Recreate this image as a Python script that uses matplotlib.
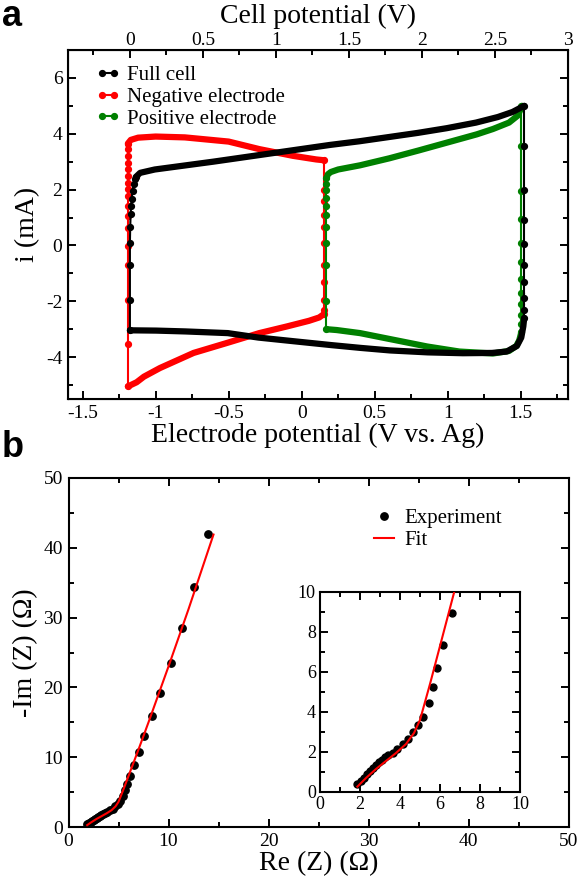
import matplotlib
matplotlib.use("Agg")
import matplotlib.pyplot as plt
from matplotlib.lines import Line2D
from matplotlib.ticker import MultipleLocator

plt.rcParams['font.family'] = ['Liberation Serif', 'DejaVu Serif']

# ---------------- panel a : cyclic voltammetry ----------------
# full cell, x in cell potential (V)
full_up_v = [0.04, 0.07, 0.17, 0.37, 0.57, 0.77, 0.97, 1.17, 1.37, 1.57, 1.77, 1.97, 2.17, 2.37, 2.52, 2.62, 2.70]
full_up_i = [2.45, 2.6, 2.72, 2.86, 3.0, 3.15, 3.3, 3.45, 3.6, 3.73, 3.88, 4.03, 4.2, 4.4, 4.6, 4.78, 5.0]
full_right_v = 2.70
full_right_i = [5.0, 3.57, 1.97, 0.91, 0.05, -0.7, -1.3, -1.9, -2.3, -2.6]
full_lo_v = [2.70, 2.694, 2.68, 2.65, 2.58, 2.48, 2.28, 2.04, 1.78, 1.58, 1.38, 1.12, 0.88, 0.67, 0.38, 0.18, 0.0]
full_lo_i = [-2.6, -2.9, -3.3, -3.6, -3.8, -3.85, -3.86, -3.83, -3.76, -3.67, -3.57, -3.43, -3.3, -3.14, -3.08, -3.05, -3.04]
full_left_v = [0.0, 0.0, 0.0, 0.0, 0.002, 0.005, 0.008, 0.012, 0.018, 0.025, 0.035, 0.04]
full_left_i = [-3.04, -1.97, -0.71, 0.1, 0.66, 1.11, 1.41, 1.68, 1.95, 2.19, 2.39, 2.45]

# negative electrode, x in electrode potential (V vs. Ag)
neg_up_e = [-1.19, -1.17, -1.12, -1.0, -0.8, -0.5, -0.29, -0.06, 0.1, 0.155]
neg_up_i = [3.65, 3.78, 3.86, 3.9, 3.87, 3.72, 3.45, 3.21, 3.08, 3.05]
neg_right_e = 0.155
neg_right_i = [3.05, 2.0, 1.6, 1.1, 0.66, 0.1, -0.7, -1.3, -1.97, -2.3, -2.45]
neg_lo_e = [0.155, 0.12, 0.05, -0.1, -0.29, -0.51, -0.74, -0.97, -1.08, -1.13, -1.19]
neg_lo_i = [-2.45, -2.58, -2.7, -2.9, -3.14, -3.49, -3.85, -4.39, -4.7, -4.9, -5.05]
neg_left_e = -1.19
neg_left_i = [-5.05, -3.52, -1.97, -0.71, -0.02, 0.64, 1.05, 1.41, 1.77, 2.01, 2.25, 2.49, 2.73, 2.97, 3.2, 3.45, 3.65]

# positive electrode
pos_up_e = [0.17, 0.18, 0.2, 0.25, 0.4, 0.6, 0.8, 1.0, 1.2, 1.31, 1.42, 1.48, 1.51]
pos_up_i = [2.4, 2.55, 2.63, 2.72, 2.87, 3.12, 3.4, 3.69, 3.98, 4.17, 4.4, 4.65, 5.0]
pos_right_e = 1.505
pos_right_i = [5.0, 3.57, 1.95, 0.93, 0.1, -0.6, -1.2, -1.7, -2.1, -2.5, -2.8, -3.1]
pos_lo_e = [1.505, 1.49, 1.47, 1.42, 1.31, 1.08, 0.86, 0.63, 0.4, 0.24, 0.17]
pos_lo_i = [-3.1, -3.4, -3.6, -3.78, -3.87, -3.8, -3.62, -3.38, -3.14, -3.03, -3.0]
pos_left_e = 0.17
pos_left_i = [-3.0, -2.0, -0.71, 0.1, 0.66, 1.1, 1.41, 1.7, 1.97, 2.2, 2.4]

# ---------------- panel b : Nyquist plot ----------------
exp_re = [1.87, 2.05, 2.2, 2.35, 2.5, 2.65, 2.8, 2.95, 3.1, 3.25, 3.4, 3.63, 3.87, 4.17, 4.42,
          4.67, 4.92, 5.17, 5.47, 5.67, 5.87, 6.17, 6.58, 7.07, 7.57, 8.33, 9.17, 10.23, 11.33, 12.5, 13.93]
exp_im = [0.40, 0.55, 0.72, 0.88, 1.03, 1.18, 1.33, 1.48, 1.62, 1.75, 1.85, 1.97, 2.15, 2.40, 2.63,
          3.02, 3.35, 3.77, 4.43, 5.27, 6.22, 7.35, 8.93, 10.8, 13.1, 15.9, 19.26, 23.5, 28.5, 34.4, 42.0]
fit_re = [1.87, 2.3, 2.8, 3.3, 3.8, 4.3, 4.7, 5.0, 5.5, 6.0, 7.0, 8.0, 10.0, 12.0, 14.5]
fit_im = [0.27, 0.7, 1.15, 1.55, 1.95, 2.4, 2.95, 3.6, 5.4, 7.3, 11.1, 15.0, 23.0, 31.2, 41.9]

red = '#ff0000'
green = '#008000'

W, H = 581, 877
fig = plt.figure(figsize=(W / 100, H / 100), dpi=100)


def style(a, major_x, minor_x, major_y, minor_y, size=14):
    a.xaxis.set_major_locator(MultipleLocator(major_x))
    a.xaxis.set_minor_locator(MultipleLocator(minor_x))
    a.yaxis.set_major_locator(MultipleLocator(major_y))
    a.yaxis.set_minor_locator(MultipleLocator(minor_y))
    a.tick_params(which='both', direction='in', width=1.4, labelsize=size, pad=4)
    a.tick_params(which='major', length=6)
    a.tick_params(which='minor', length=3.5)
    for s in a.spines.values():
        s.set_linewidth(1.5)


def draw_loop(a, color, up, low, left, right):
    for xs, ys in (up, low):
        a.plot(xs, ys, color=color, lw=4.5, solid_capstyle='round', zorder=3)
    for xs, ys in (left, right):
        a.plot(xs, ys, color=color, lw=1.5, marker='o', ms=4.2, zorder=3)


# panel a
ax = fig.add_axes([68 / W, 1 - 399 / H, 500 / W, 349 / H])
ax.set_xlim(-1.6, 1.824)
ax.set_ylim(-5.5, 7)
draw_loop(ax, red, (neg_up_e, neg_up_i), (neg_lo_e, neg_lo_i),
          ([neg_left_e] * len(neg_left_i), neg_left_i), ([neg_right_e] * len(neg_right_i), neg_right_i))
draw_loop(ax, green, (pos_up_e, pos_up_i), (pos_lo_e, pos_lo_i),
          ([pos_left_e] * len(pos_left_i), pos_left_i), ([pos_right_e] * len(pos_right_i), pos_right_i))

ax_top = ax.twiny()
ax_top.set_xlim(-0.424, 3.0)
draw_loop(ax_top, 'black', (full_up_v, full_up_i), (full_lo_v, full_lo_i),
          (full_left_v, full_left_i), ([full_right_v] * len(full_right_i), full_right_i))

style(ax, 0.5, 0.25, 2, 1)
ax.tick_params(which='both', top=False, right=True, labelright=False)
ax_top.xaxis.set_major_locator(MultipleLocator(0.5))
ax_top.xaxis.set_minor_locator(MultipleLocator(0.25))
ax_top.tick_params(which='both', direction='in', width=1.4, labelsize=14, pad=0.5)
ax_top.tick_params(which='major', length=6)
ax_top.tick_params(which='minor', length=3.5)
ax_top.xaxis.set_major_formatter(plt.FuncFormatter(lambda v, p: f'{v:g}'))
ax.xaxis.set_major_formatter(plt.FuncFormatter(lambda v, p: f'{v:g}'))
ax.yaxis.set_major_formatter(plt.FuncFormatter(lambda v, p: f'{v:g}'))

ax.set_xlabel('Electrode potential (V vs. Ag)', fontsize=20, labelpad=1)
ax.set_ylabel('i (mA)', fontsize=20, labelpad=4)
ax_top.set_xlabel('Cell potential (V)', fontsize=20, labelpad=7)

handles = [Line2D([], [], color=c, lw=1.5, marker='o', ms=4.2) for c in ('black', red, green)]
ax_top.legend(handles, ['Full cell', 'Negative electrode', 'Positive electrode'],
              loc='upper left', bbox_to_anchor=(0.055, 0.955), frameon=False, fontsize=15,
              numpoints=2, handlelength=1.2, handletextpad=0.3, labelspacing=0.1,
              borderpad=0, borderaxespad=0)

# panel b
bx = fig.add_axes([68.5 / W, 1 - 827 / H, 500 / W, 349 / H])
bx.set_xlim(0, 50)
bx.set_ylim(0, 50)
bx.plot(exp_re, exp_im, 'o', color='black', ms=5.3, ls='none', label='Experiment', zorder=3)
bx.plot(fit_re, fit_im, color=red, lw=1.5, label='Fit', zorder=4)
style(bx, 10, 5, 10, 5)
bx.tick_params(which='both', top=True, right=True)
bx.set_xlabel('Re (Z) (Ω)', fontsize=20, labelpad=1)
bx.set_ylabel('-Im (Z) (Ω)', fontsize=20, labelpad=4)
bx.legend(loc='upper left', bbox_to_anchor=(0.61, 0.912), frameon=False, fontsize=15,
          numpoints=1, handlelength=1.0, handletextpad=0.5, labelspacing=0.1,
          borderpad=0, borderaxespad=0)

# inset
ix = fig.add_axes([320 / W, 1 - 792 / H, 200 / W, 200 / H])
ix.set_xlim(0, 10)
ix.set_ylim(0, 10)
ix.plot(exp_re, exp_im, 'o', color='black', ms=5, ls='none', zorder=3)
ix.plot(fit_re, fit_im, color=red, lw=1.5, zorder=4)
style(ix, 2, 1, 2, 1, size=13)
ix.tick_params(which='both', top=True, right=True, pad=3)

fig.text(2 / W, 1 - 26 / H, 'a', fontsize=26, fontweight='bold', family='Liberation Sans')
fig.text(2 / W, 1 - 457 / H, 'b', fontsize=26, fontweight='bold', family='Liberation Sans')

fig.savefig('out.png', dpi=100)
